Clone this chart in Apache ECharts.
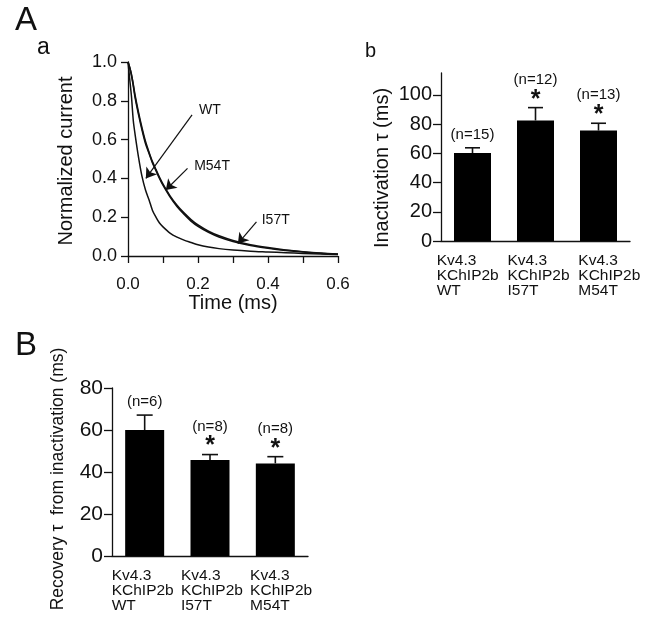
<!DOCTYPE html>
<html>
<head>
<meta charset="utf-8">
<script src="https://cdn.jsdelivr.net/npm/echarts@6/dist/echarts.min.js"></script>
<style>
html,body{margin:0;padding:0;background:#fff;}
#c{width:650px;height:632px;}
</style>
</head>
<body>
<div id="c"></div>
<script>
// ---------- Panel Aa: normalized current decay ----------
const timeMs = [0, 0.005, 0.01, 0.015, 0.02, 0.03, 0.04, 0.05, 0.06, 0.07, 0.08, 0.09, 0.1, 0.12, 0.14, 0.16, 0.18, 0.2, 0.23, 0.26, 0.3, 0.35, 0.4, 0.45, 0.5, 0.55, 0.6];
const currentWT   = [1.0, 0.91, 0.82, 0.70, 0.63, 0.51, 0.41, 0.34, 0.29, 0.235, 0.20, 0.17, 0.15, 0.118, 0.097, 0.082, 0.07, 0.058, 0.046, 0.038, 0.031, 0.025, 0.021, 0.017, 0.013, 0.01, 0.008];
const currentM54T = [1.0, 0.97, 0.93, 0.88, 0.82, 0.73, 0.65, 0.58, 0.53, 0.48, 0.44, 0.40, 0.365, 0.305, 0.255, 0.215, 0.18, 0.153, 0.122, 0.098, 0.075, 0.054, 0.04, 0.029, 0.021, 0.014, 0.009];
const currentI57T = [1.0, 0.97, 0.935, 0.885, 0.83, 0.74, 0.66, 0.59, 0.535, 0.485, 0.445, 0.405, 0.37, 0.31, 0.262, 0.222, 0.188, 0.16, 0.128, 0.104, 0.08, 0.058, 0.043, 0.031, 0.022, 0.015, 0.01];
const traceNames = ['WT', 'M54T', 'I57T'];
// arrow annotations in data coordinates
const arrowFrom  = [[0.183, 0.727], [0.170, 0.452], [0.367, 0.176]];
const arrowTo    = [[0.051, 0.400], [0.108, 0.340], [0.314, 0.064]];
const arrowLabel = [[0.203, 0.754], [0.189, 0.461], [0.382, 0.185]];

// ---------- Bar panels ----------
const categoryLabels = ['Kv4.3\nKChIP2b\nWT', 'Kv4.3\nKChIP2b\nI57T', 'Kv4.3\nKChIP2b\nM54T'];
const categoryKeys = ['WT', 'I57T', 'M54T'];
const inactMean = [60.2, 82.5, 75.6];
const inactErr  = [3.6, 8.8, 5.0];
const inactN    = ['(n=15)', '(n=12)', '(n=13)'];
const inactSig  = [false, true, true];
const recovMean = [60.0, 45.7, 44.1];
const recovErr  = [7.1, 2.6, 3.2];
const recovN    = ['(n=6)', '(n=8)', '(n=8)'];
const recovSig  = [false, true, true];
const inactTicks = [0, 20, 40, 60, 80, 100];
const recovTicks = [0, 20, 40, 60, 80];

const FONT = "'Liberation Sans', Arial, Helvetica, sans-serif";
const INK = '#111';

function pair(xs, ys){ return xs.map((x,i)=>[x, ys[i]]); }

function errRender(means, errs, ns, sigs, capHalf){
  return function(params, api){
    const i = params.dataIndex;
    const top = api.coord([i, means[i]]);
    const cap = api.coord([i, means[i] + errs[i]]);
    const children = [
      {type:'line', shape:{x1:top[0], y1:top[1], x2:cap[0], y2:cap[1]}, style:{stroke:INK, lineWidth:1.6}},
      {type:'line', shape:{x1:cap[0]-capHalf, y1:cap[1], x2:cap[0]+capHalf, y2:cap[1]}, style:{stroke:INK, lineWidth:1.6}}
    ];
    const nGap = sigs[i] ? 28 : 13;
    children.push({type:'text', x:cap[0], y:cap[1]-nGap, style:{text:ns[i], font:'15px '+FONT, fill:INK, align:'center', verticalAlign:'middle'}});
    if (sigs[i]) {
      children.push({type:'text', x:cap[0], y:cap[1]-8, style:{text:'*', font:'bold 25px '+FONT, fill:INK, align:'center', verticalAlign:'middle'}});
    }
    return {type:'group', children};
  };
}

const axisLineStyle = {lineStyle:{color:INK, width:1.3}};

const option = {
  backgroundColor:'#fff',
  animation:false,
  textStyle:{fontFamily:FONT, color:INK},
  graphic:[
    {type:'text', x:15, y:20.5, style:{text:'A', font:'33px '+FONT, fill:INK, verticalAlign:'middle'}},
    {type:'text', x:37, y:48, style:{text:'a', font:'23px '+FONT, fill:INK, verticalAlign:'middle'}},
    {type:'text', x:365, y:51, style:{text:'b', font:'20px '+FONT, fill:INK, verticalAlign:'middle'}},
    {type:'text', x:15, y:346, style:{text:'B', font:'33px '+FONT, fill:INK, verticalAlign:'middle'}}
  ],
  grid:[
    {left:128, top:62, width:210, height:194},
    {left:441, top:73, width:189, height:168},
    {left:112, top:388, width:196, height:168},
    {left:401.3, top:73, width:212.4, height:168},
    {left:77.1, top:388, width:207.6, height:168}
  ],
  xAxis:[
    {gridIndex:0, type:'value', min:0, max:0.6, interval:0.1,
     axisLine:axisLineStyle, axisTick:{length:7, lineStyle:{color:INK, width:1.3}},
     axisLabel:{fontSize:17, color:INK, margin:20, formatter:v => (Math.round(v*10)%2===0 ? v.toFixed(1) : '')},
     splitLine:{show:false},
     name:'Time (ms)', nameLocation:'middle', nameGap:37, nameTextStyle:{fontSize:20, color:INK}},
    {gridIndex:1, type:'category', data:categoryKeys, axisLine:axisLineStyle, axisTick:{show:false}, axisLabel:{show:false}},
    {gridIndex:2, type:'category', data:categoryKeys, axisLine:axisLineStyle, axisTick:{show:false}, axisLabel:{show:false}},
    {gridIndex:3, type:'category', data:categoryLabels, axisLine:{show:false}, axisTick:{show:false},
     axisLabel:{fontSize:15.5, color:INK, align:'left', verticalAlign:'top', lineHeight:15, margin:12, interval:0}},
    {gridIndex:4, type:'category', data:categoryLabels, axisLine:{show:false}, axisTick:{show:false},
     axisLabel:{fontSize:15.5, color:INK, align:'left', verticalAlign:'top', lineHeight:15, margin:12, interval:0}}
  ],
  yAxis:[
    {gridIndex:0, type:'value', min:0, max:1, interval:0.2,
     axisLine:{show:true, lineStyle:{color:INK, width:1.3}}, axisTick:{show:true, length:7, lineStyle:{color:INK, width:1.3}},
     axisLabel:{fontSize:18, color:INK, margin:11, formatter:v => v.toFixed(1)},
     splitLine:{show:false},
     name:'Normalized current', nameLocation:'middle', nameGap:52, nameTextStyle:{fontSize:20, color:INK, padding:[0,4,0,0]}},
    {gridIndex:1, type:'value', min:0, max:115,
     axisLine:{show:true, lineStyle:{color:INK, width:1.3}},
     axisTick:{show:true, length:8, customValues:inactTicks, lineStyle:{color:INK, width:1.3}},
     axisLabel:{fontSize:20, color:INK, margin:9, customValues:inactTicks},
     splitLine:{show:false},
     name:'Inactivation \u03c4 (ms)', nameLocation:'middle', nameGap:49, nameTextStyle:{fontSize:20, color:INK, padding:[0,22,0,0]}},
    {gridIndex:2, type:'value', min:0, max:80,
     axisLine:{show:true, lineStyle:{color:INK, width:1.3}},
     axisTick:{show:true, length:8, customValues:recovTicks, lineStyle:{color:INK, width:1.3}},
     axisLabel:{fontSize:21, color:INK, margin:9, customValues:recovTicks},
     splitLine:{show:false},
     name:'Recovery \u03c4  from inactivation (ms)', nameLocation:'middle', nameGap:45, nameTextStyle:{fontSize:17.5, color:INK, padding:[0,14,0,0]}},
    {gridIndex:3, type:'value', show:false},
    {gridIndex:4, type:'value', show:false}
  ],
  series:[
    {type:'line', xAxisIndex:0, yAxisIndex:0, name:traceNames[0], data:pair(timeMs, currentWT), smooth:0.3, symbol:'none',
     lineStyle:{color:INK, width:1.5},
     markLine:{silent:true, symbol:['none','arrow'], symbolSize:10, lineStyle:{color:INK, width:1.2, type:'solid'}, label:{show:false},
       data: arrowFrom.map((f,i)=>[{coord:f}, {coord:arrowTo[i]}])},
     markPoint:{silent:true, symbol:'circle', symbolSize:0,
       data: arrowLabel.map((p,i)=>({coord:p, value:traceNames[i],
         label:{show:true, position:'inside', align:'left', verticalAlign:'middle', fontSize:14, color:INK, formatter:traceNames[i]}}))}
    },
    {type:'line', xAxisIndex:0, yAxisIndex:0, name:traceNames[1], data:pair(timeMs, currentM54T), smooth:0.3, symbol:'none', lineStyle:{color:INK, width:1.6}},
    {type:'line', xAxisIndex:0, yAxisIndex:0, name:traceNames[2], data:pair(timeMs, currentI57T), smooth:0.3, symbol:'none', lineStyle:{color:INK, width:1.6}},
    {type:'bar', xAxisIndex:1, yAxisIndex:1, data:inactMean, barWidth:37, itemStyle:{color:'#000'}},
    {type:'custom', xAxisIndex:1, yAxisIndex:1, data:inactMean.map((m,i)=>[i, m + inactErr[i]]), renderItem:errRender(inactMean, inactErr, inactN, inactSig, 7.5), z:5},
    {type:'bar', xAxisIndex:2, yAxisIndex:2, data:recovMean, barWidth:39, itemStyle:{color:'#000'}},
    {type:'custom', xAxisIndex:2, yAxisIndex:2, data:recovMean.map((m,i)=>[i, m + recovErr[i]]), renderItem:errRender(recovMean, recovErr, recovN, recovSig, 8), z:5}
  ]
};

const chart = echarts.init(document.getElementById('c'), null, {renderer:'canvas'});
chart.setOption(option);
</script>
</body>
</html>
